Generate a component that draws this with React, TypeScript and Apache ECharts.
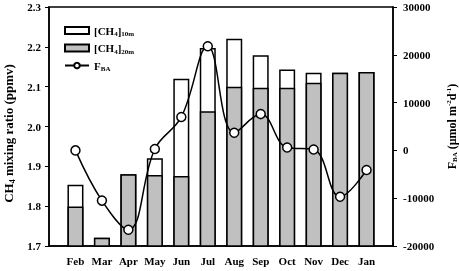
import React, { useEffect, useRef } from "react";
import * as echarts from "echarts";

const months = ["Feb", "Mar", "Apr", "May", "Jun", "Jul", "Aug", "Sep", "Oct", "Nov", "Dec", "Jan"];
const ch4At10m = [1.854, 1.721, 1.88, 1.92, 2.12, 2.197, 2.22, 2.179, 2.143, 2.135, 2.135, 2.137];
const ch4At20m = [1.799, 1.721, 1.88, 1.878, 1.876, 2.038, 2.1, 2.097, 2.097, 2.11, 2.135, 2.137];
const fluxBA = [0, -10500, -16600, 300, 7000, 21800, 3700, 7600, 600, 200, -9700, -4100];

const FONT = "Liberation Serif";

export default function App() {
  const ref = useRef<HTMLDivElement>(null);
  useEffect(() => {
    if (!ref.current) return;
    const chart = echarts.init(ref.current, null, { renderer: "svg" });
    const n = { fontFamily: FONT, fontWeight: "bold", fontSize: 11, lineHeight: 14, color: "#000" };
    const s = { fontFamily: FONT, fontWeight: "bold", fontSize: 7, lineHeight: 6, verticalAlign: "bottom", color: "#000" };
    const p = { fontFamily: FONT, fontWeight: "bold", fontSize: 7, lineHeight: 6, verticalAlign: "top", color: "#000" };
    const nameN = { ...n, fontSize: 12, lineHeight: 13 };
    const sR = { ...s, lineHeight: 5 };
    const pR = { ...p, lineHeight: 5 };
    const nameL = { ...n, fontSize: 13, lineHeight: 15 };
    const sL = { ...s, fontSize: 8 };
    const legendNames: Record<string, string> = {
      c10: "{n|[CH}{s|4}{n|]}{s|10m}",
      c20: "{n|[CH}{s|4}{n|]}{s|20m}",
      fba: "{n|F}{s|BA}",
    };
    const xData = (arr: number[]) => arr.map((v, i) => [i + 1, v]);
    chart.setOption({
      animation: false,
      textStyle: { fontFamily: FONT },
      grid: {
        left: 49,
        right: 66,
        top: 7,
        bottom: 25,
        containLabel: false,
        outerBoundsMode: "none",
        show: true,
        borderColor: "#000",
        borderWidth: 1.5,
        backgroundColor: "transparent",
      },
      legend: {
        orient: "vertical",
        left: 59,
        top: 20,
        itemWidth: 24,
        itemHeight: 7,
        itemGap: 5,
        data: [
          { name: "c10", icon: "rect" },
          { name: "c20", icon: "rect" },
          { name: "fba" },
        ],
        formatter: (name: string) => legendNames[name],
        textStyle: { rich: { n, s } },
      },
      xAxis: {
        type: "value",
        min: 0,
        max: 13,
        interval: 1,
        splitLine: { show: false },
        axisLine: { onZero: false, lineStyle: { color: "#000", width: 1.5 } },
        axisTick: { inside: true, length: 4, lineStyle: { color: "#000", width: 1 } },
        axisLabel: {
          margin: 9,
          fontFamily: FONT,
          fontWeight: "bold",
          fontSize: 11,
          color: "#000",
          formatter: (v: number) => (v >= 1 && v <= 12 ? months[v - 1] : ""),
        },
      },
      yAxis: [
        {
          type: "value",
          min: 1.7,
          max: 2.3,
          interval: 0.1,
          splitLine: { show: false },
          axisLine: { show: true, lineStyle: { color: "#000", width: 1.5 } },
          axisTick: { show: true, length: 4, lineStyle: { color: "#000", width: 1 } },
          axisLabel: {
            margin: 8,
            fontFamily: FONT,
            fontWeight: "bold",
            fontSize: 11,
            color: "#000",
            formatter: (v: number) => v.toFixed(1),
          },
          name: "{n|CH}{s|4}{n| mixing ratio (ppmv)}",
          nameLocation: "middle",
          nameRotate: 90,
          nameGap: 33,
          nameTextStyle: { rich: { n: nameL, s: sL }, padding: [0, 14, 0, 0] },
        },
        {
          type: "value",
          min: -20000,
          max: 30000,
          interval: 10000,
          position: "right",
          splitLine: { show: false },
          axisLine: { show: true, lineStyle: { color: "#000", width: 1.5 } },
          axisTick: { show: true, length: 4, lineStyle: { color: "#000", width: 1 } },
          axisLabel: {
            margin: 10,
            fontFamily: FONT,
            fontWeight: "bold",
            fontSize: 11,
            color: "#000",
            formatter: (v: number) => String(v),
          },
          name: "{n|F}{s|BA}{n| (μmol m}{p|-2}{n|d}{p|-1}{n|)}",
          nameLocation: "middle",
          nameRotate: 90,
          nameGap: 46,
          nameTextStyle: { rich: { n: nameN, s: sR, p: pR } },
        },
      ],
      series: [
        {
          name: "c10",
          type: "bar",
          data: xData(ch4At10m),
          barWidth: 16,
          barGap: "-100%",
          itemStyle: { color: "#ffffff", borderColor: "#000", borderWidth: 1.5 },
        },
        {
          name: "c20",
          type: "bar",
          data: xData(ch4At20m),
          barWidth: 16,
          barGap: "-100%",
          itemStyle: { color: "#c0c0c0", borderColor: "#000", borderWidth: 1.5 },
        },
        {
          name: "fba",
          type: "line",
          yAxisIndex: 1,
          data: xData(fluxBA),
          smooth: 0.4,
          symbol: "circle",
          symbolSize: 9,
          lineStyle: { color: "#000", width: 1.5 },
          itemStyle: { color: "#fff", borderColor: "#000", borderWidth: 1.5 },
          z: 5,
        },
      ],
    });
    return () => chart.dispose();
  }, []);
  return <div ref={ref} style={{ position: "fixed", left: 0, top: 0, width: 459, height: 271 }} />;
}
